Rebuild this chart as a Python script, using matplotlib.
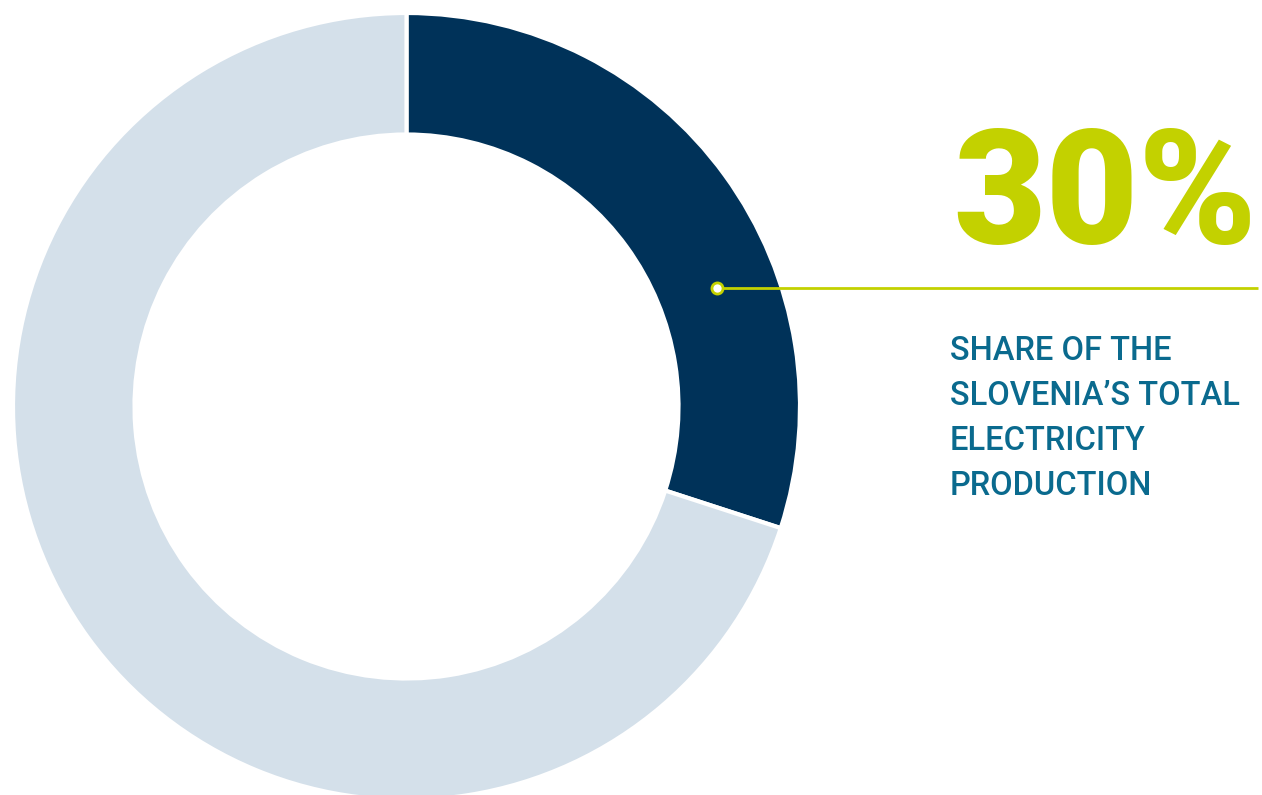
import matplotlib.pyplot as plt

# share of total electricity production
labels = ["Share", "Rest"]
shares = [30, 70]
colors = ["#003259", "#d4e0ea"]
caption = ["SHARE OF THE", "SLOVENIA\u2019S TOTAL", "ELECTRICITY", "PRODUCTION"]

W, H = 1262, 795
fig = plt.figure(figsize=(W / 100, H / 100), dpi=100)
ax = fig.add_axes([0, 0, 1, 1])

cx, cy = 406.5, H - 406.5
r_out, r_in = 393.5, 272

ax.pie(shares, colors=colors, startangle=90, counterclock=False,
       center=(cx, cy), radius=r_out,
       wedgeprops=dict(width=r_out - r_in, edgecolor="white", linewidth=3))

ax.set_xlim(0, W)
ax.set_ylim(0, H)
ax.set_aspect("equal")
ax.axis("off")

green = "#c3d100"
ax.text(953, H - 243, f"{shares[0]}%", fontsize=115, fontweight="black",
        family="Roboto", color=green, ha="left", va="baseline")

# leader line from the dark wedge
ax.plot([717, 1258], [H - 288, H - 288], color=green, lw=2, solid_capstyle="butt")
ax.plot([717], [H - 288], marker="o", ms=8, mfc="white", mec=green, mew=2)

for i, line in enumerate(caption):
    ax.text(950, H - 360 - 45 * i, line, fontsize=23.5, family="Roboto",
            fontweight="medium", color="#0a6a8e", ha="left", va="baseline")

fig.savefig("out.png", dpi=100)
